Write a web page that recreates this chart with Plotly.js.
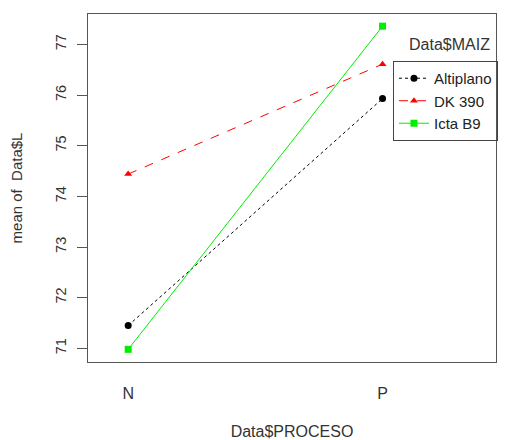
<!DOCTYPE html>
<html><head><meta charset="utf-8">
<script src="https://cdn.plot.ly/plotly-3.0.1.min.js"></script>
<style>html,body{margin:0;padding:0;background:#fff}#g{width:506px;height:440px}</style>
</head><body><div id="g"></div>
<script>
const categories = ["N", "P"];
const seriesNames = ["Altiplano", "DK 390", "Icta B9"];
const altiplano = [71.45, 75.93];
const dk390 = [74.44, 76.61];
const ictaB9 = [70.98, 77.36];
const yTicks = [71, 72, 73, 74, 75, 76, 77];

const xpos = categories.map((c, i) => i + 1);
const styles = [
  {color: "#000000", dash: "dot", symbol: "circle"},
  {color: "#ff0000", dash: "dash", symbol: "triangle-up"},
  {color: "#00ee00", dash: "solid", symbol: "square"}
];
const vals = [altiplano, dk390, ictaB9];
const traces = vals.map((v, i) => ({
  x: xpos, y: v, name: seriesNames[i], type: "scatter", mode: "lines+markers",
  line: {color: styles[i].color, dash: styles[i].dash, width: 1},
  marker: {color: styles[i].color, symbol: styles[i].symbol, size: 7}
}));

const fam = "Liberation Sans, Arial, sans-serif";
const layout = {
  width: 506, height: 440,
  margin: {l: 88, r: 9, t: 14, b: 78},
  paper_bgcolor: "#fff", plot_bgcolor: "#fff",
  font: {family: fam, size: 15, color: "#333"},
  showlegend: true,
  legend: {x: 0.7457, y: 0.865, xanchor: "left", yanchor: "top",
    bordercolor: "#444", borderwidth: 1, bgcolor: "rgba(255,255,255,0)",
    font: {family: fam, size: 15, color: "#222"}, tracegroupgap: 0,
    itemwidth: 30},
  xaxis: {range: [0.842, 2.446], tickvals: xpos, ticktext: categories,
    showgrid: false, zeroline: false, ticks: "", ticklabelstandoff: 17,
    showline: true, mirror: true, linecolor: "#555", linewidth: 1,
    tickfont: {size: 16, color: "#333"},
    title: {text: "Data$PROCESO", font: {size: 16, color: "#333"}, standoff: 26}},
  yaxis: {range: [70.73, 77.60], tickvals: yTicks, ticktext: yTicks.map(String),
    showgrid: false, zeroline: false, ticks: "outside", ticklen: 10, tickcolor: "#555",
    tickangle: -90, ticklabelstandoff: 5,
    showline: true, mirror: true, linecolor: "#555", linewidth: 1,
    tickfont: {size: 14.5, color: "#333"},
    title: {text: "mean of \u00a0Data$L", font: {size: 15, color: "#333"}, standoff: 26}},
  annotations: [{xref: "paper", yref: "paper", x: 0.886, y: 0.911, xanchor: "center", yanchor: "middle",
    text: "Data$MAIZ", showarrow: false, font: {size: 16, color: "#333"}}]
};
Plotly.newPlot("g", traces, layout, {displayModeBar: false, staticPlot: true});
</script></body></html>
